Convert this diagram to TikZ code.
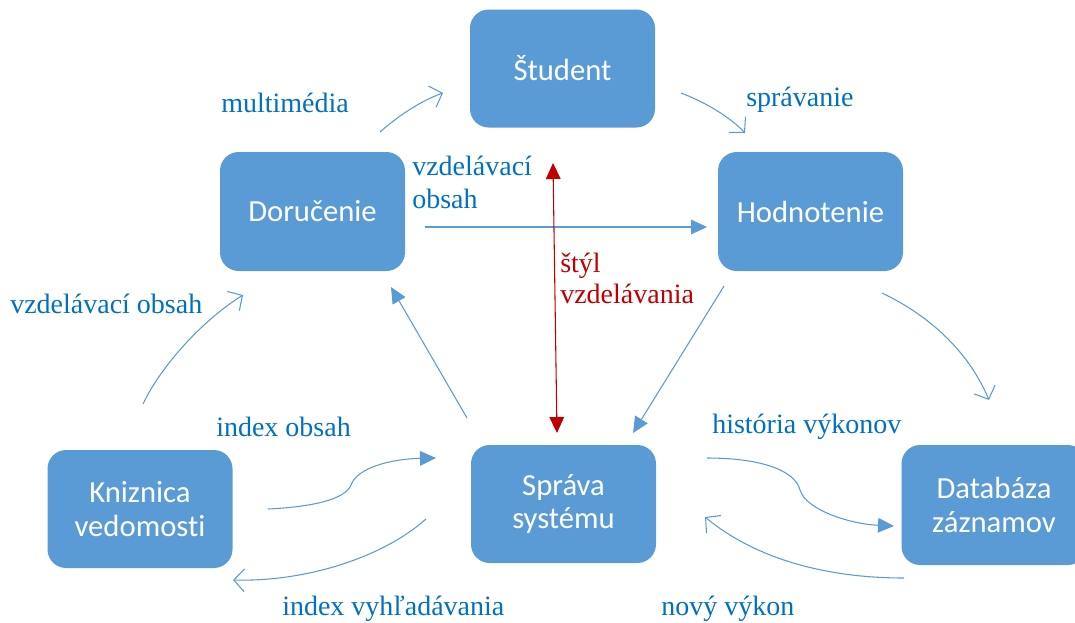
\documentclass[tikz,border=0pt]{standalone}
\usepackage{fontspec}
\setmainfont{Liberation Serif}
\newfontfamily\boxfont[Ligatures={NoCommon}]{Carlito}
\usetikzlibrary{arrows.meta}
\definecolor{boxblue}{HTML}{5B9BD5}
\definecolor{lblblue}{HTML}{0070C0}
\definecolor{darkred}{HTML}{C00000}
\tikzset{
  box/.style={rectangle, rounded corners=14pt, fill=boxblue, text=white, minimum width=138.75pt, minimum height=88.5pt, inner sep=0pt, align=center, font=\boxfont\fontsize{23}{25}\selectfont},
  lbl/.style={text=lblblue, inner sep=0pt, font=\fontsize{21}{24.5}\selectfont, align=left},
  redlbl/.style={text=darkred, inner sep=0pt, font=\fontsize{21}{23}\selectfont, align=left},
  conn/.style={draw=boxblue, line width=0.8pt},
  filledhead/.style={conn, -{Triangle[length=12pt,width=11pt]}},
  openhead/.style={conn, -{Straight Barb[length=8pt,width=17pt,line width=0.8pt]}},
  redarrow/.style={draw=darkred, line width=0.8pt, {Triangle[length=12pt,width=11pt]}-{Triangle[length=12pt,width=11pt]}}
}
\begin{document}
\begin{tikzpicture}[x=0.75pt,y=-0.75pt]
\useasboundingbox (0,0) rectangle (1075,622);
% nodes
\node[box] (stud) at (562.5,68.5) {Študent};
\node[box, minimum height=89.25pt] (doru) at (312.5,211.5) {Doručenie};
\node[box, minimum height=89.25pt] (hodn) at (810.5,211.5) {Hodnotenie};
\node[box] (kniz) at (140,509) {Kniznica\\vedomosti};
\node[box] (sprava) at (563.5,504) {Správa\\systému};
\node[box, minimum height=90pt] (data) at (994,505) {Databáza\\záznamov};
% labels
\node[lbl, anchor=west] (lmulti) at (221,103) {multimédia};
\node[lbl, anchor=west] (lsprav) at (746,100) {správanie};
\node[lbl, anchor=north west] (lvzd1) at (412,156) {vzdelávací\\obsah};
\node[redlbl, anchor=north west] (lstyl) at (560,253) {štýl\\vzdelávania};
\node[lbl, anchor=west] (lvzd2) at (10,304) {vzdelávací obsah};
\node[lbl, anchor=west] (lindex) at (216,427) {index obsah};
\node[lbl, anchor=west] (lhist) at (712,427) {história výkonov};
\node[lbl, anchor=west] (lvyhl) at (282,609) {index vyhľadávania};
\node[lbl, anchor=west] (lnovy) at (661,609) {nový výkon};
% connector end points
\coordinate (a1) at (380,132); \coordinate (a2) at (443,93);
\coordinate (b1) at (681,93); \coordinate (b2) at (745,133);
\coordinate (c1) at (425,227); \coordinate (c2) at (707,227);
\coordinate (d1) at (553,163); \coordinate (d2) at (557,433);
\coordinate (e1) at (467,418); \coordinate (e2) at (391,287);
\coordinate (f1) at (724,286); \coordinate (f2) at (633,433);
\coordinate (g1) at (882,293); \coordinate (g2) at (989,400);
\coordinate (h1) at (143,404); \coordinate (h2) at (243,295);
\coordinate (i1) at (268,509); \coordinate (i2) at (436,458);
\coordinate (j1) at (426,519); \coordinate (j2) at (233,580);
\coordinate (k1) at (707,458); \coordinate (k2) at (894,526);
\coordinate (l1) at (904,578); \coordinate (l2) at (705,517);
% connectors
\draw[openhead] (a1) .. controls (397,117) and (420,101) .. (a2);
\draw[openhead] (b1) .. controls (705,102) and (730,117) .. (b2);
\draw[filledhead] (c1) -- (c2);
\draw[redarrow] (d1) -- (d2);
\draw[filledhead] (e1) -- (e2);
\draw[filledhead] (f1) -- (f2);
\draw[openhead] (g1) .. controls (928,315) and (968,350) .. (g2);
\draw[openhead] (h1) .. controls (160,368) and (200,322) .. (h2);
\draw[filledhead] (i1) .. controls (310,507) and (345,500) .. (351,485) .. controls (357,468) and (390,459) .. (i2);
\draw[openhead] (j1) .. controls (382,558) and (305,582) .. (j2);
\draw[filledhead] (k1) .. controls (760,458) and (795,470) .. (800,490) .. controls (806,510) and (850,524) .. (k2);
\draw[openhead] (l1) .. controls (820,578) and (752,556) .. (l2);
\end{tikzpicture}
\end{document}
